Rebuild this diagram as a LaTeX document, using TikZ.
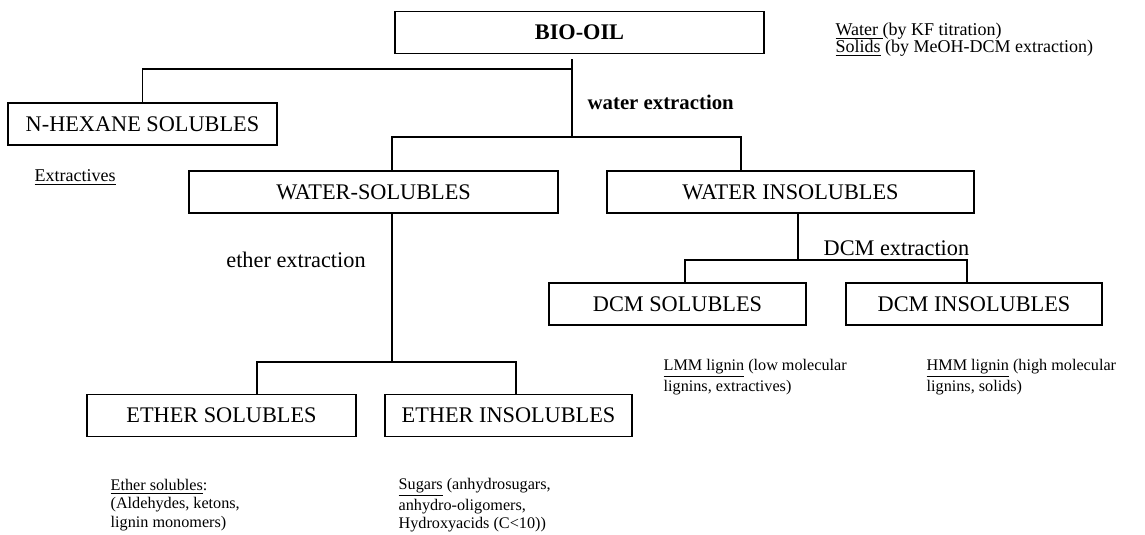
\documentclass[tikz,border=0pt]{standalone}
\usepackage{fontspec}
\setmainfont{Liberation Serif}
\usetikzlibrary{positioning,calc}
\newcommand{\boxfont}{\fontsize{11.15}{13}\selectfont}
\newcommand{\stepfont}{\fontsize{10.4}{12}\selectfont}
\newcommand{\topnotefont}{\fontsize{9}{8.4}\selectfont}
\newcommand{\notefont}{\fontsize{8.1}{9.15}\selectfont}

\begin{document}
\begin{tikzpicture}[x=0.5pt, y=-0.5pt, line width=0.65pt,
  fraction/.style={draw, inner sep=0pt, minimum height=21pt, font=\boxfont},
  note/.style={align=left, anchor=west, inner sep=0pt, font=\notefont}]
\useasboundingbox (0,0) rectangle (1145,535);

\node[fraction, minimum width=184.5pt, font=\boxfont\bfseries] (bio) at (579.5,32.5) {BIO-OIL};
\foreach \name/\x/\y/\w/\txt in {hex/142.5/124/134.5/N-HEXANE SOLUBLES,
                                 wsol/373.5/192/184.5/WATER-SOLUBLES,
                                 wins/790.5/192/183.5/WATER INSOLUBLES,
                                 dsol/677.5/304/128.5/DCM SOLUBLES,
                                 dins/974/304/128/DCM INSOLUBLES,
                                 esol/221.5/415.5/134.5/ETHER SOLUBLES,
                                 eins/508.5/415.5/123.5/ETHER INSOLUBLES}{
  \node[fraction, minimum width=\w pt] (\name) at (\x,\y) {\txt};
}

\coordinate (bj) at (572,69);
\coordinate (wj) at (572,137);
\coordinate (wl) at (392,137);
\coordinate (wr) at (741,137);
\coordinate (ej) at (392,362);
\coordinate (el) at (257,362);
\coordinate (er) at (516,362);
\coordinate (dj) at (798,260);
\coordinate (dl) at (685,260);
\coordinate (dr) at (967,260);

\draw[shorten <=2.5pt] (bio.south -| wj) -- (wj);
\draw (bj) -| (hex.north);
\draw (wsol.north -| wl) |- (wr) -- (wins.north -| wr);
\draw (wsol.south -| ej) -- (ej);
\draw (esol.north -| el) |- (er) -- (eins.north -| er);
\draw (wins.south -| dj) -- (dj);
\draw (dsol.north -| dl) |- (dr) -- (dins.north -| dr);

\node[font=\stepfont\bfseries, anchor=west, inner sep=0pt] (wext) at (587,102) {water extraction};
\node[font=\boxfont, inner sep=0pt] (eext) at (296,260) {ether extraction};
\node[font=\boxfont, anchor=west, inner sep=0pt] (dext) at (823,248) {DCM extraction};

\node[note, font=\topnotefont] (extr) at (34,178) {\underline{Extractives}};
\node[note, font=\topnotefont] (kf) at (835,40) {\underline{Water\ }(by KF titration)\\\underline{Solids} (by MeOH-DCM extraction)};
\node[note] (esn) at (110,505) {\underline{Ether solubles}:\\(Aldehydes, ketons,\\lignin monomers)};
\node[note] (sug) at (398,505) {\underline{Sugars} (anhydrosugars,\\anhydro-oligomers,\\Hydroxyacids (C<10))};
\node[note] (lmm) at (663,377) {\underline{LMM lignin} (low molecular\\lignins, extractives)};
\node[note] (hmm) at (926,377) {\underline{HMM lignin} (high molecular\\lignins, solids)};
\end{tikzpicture}
\end{document}
